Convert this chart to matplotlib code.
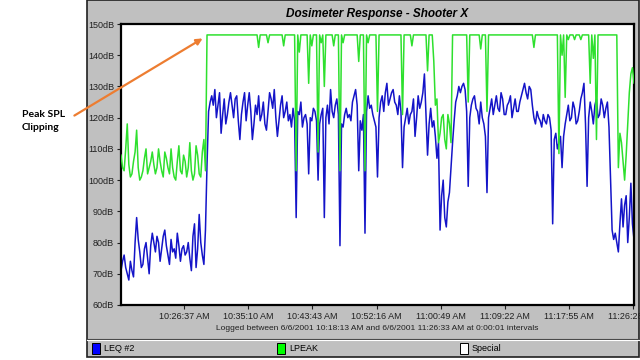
import matplotlib
matplotlib.use("Agg")
import matplotlib.pyplot as plt
from matplotlib.patches import Rectangle, FancyArrowPatch
from matplotlib.lines import Line2D
import numpy as np

# points every 12.5 s starting at 10:18:13
start_label = "10:18:13"
end_label = "11:26:33"
step_s = 12.5
C = 146.5  # LPEAK clip level

leq = [71, 74, 76, 72, 70, 68, 74, 71, 69, 80, 88, 81, 77, 72, 73, 78, 80, 75, 70, 79,
       83, 80, 77, 82, 80, 74, 78, 82, 84, 79, 76, 73, 81, 77, 78, 75, 83, 79, 74, 78,
       79, 76, 77, 80, 75, 71, 82, 86, 72, 78, 89, 80, 76, 73, 84, 105,
       122, 125, 127, 124, 129, 120, 124, 128, 115, 121, 126, 118, 121, 125, 128, 124, 120, 126, 127, 119,
       113, 121, 125, 128, 119, 124, 128, 122, 113, 118, 124, 121, 127, 119, 121, 125, 118, 116, 122, 128,
       126, 123, 129, 120, 114, 119, 124, 127, 120, 122, 125, 119, 121, 117,
       123, 119, 88, 122, 121, 125, 117, 120, 121, 118, 102, 120, 119, 123, 122, 119, 100, 118, 121, 123,
       88, 120, 124, 118, 129, 122, 120, 124, 126, 121, 79, 118, 117, 121, 123, 120, 121, 119, 125, 127,
       129, 124, 103, 119, 116, 121, 83, 122, 127, 123,
       124, 121, 119, 117, 101, 120, 125, 127, 122, 128, 131, 124, 126, 128, 129, 125, 124, 121, 127, 122,
       104, 117, 120, 123, 118, 121, 122, 126, 114, 120, 127, 123, 125, 128, 134, 121, 108, 118, 123, 117,
       119, 114, 107, 112, 84, 95, 100, 88, 85, 93, 96, 104, 112, 119, 125, 127, 130, 128,
       130, 131, 129, 122, 98, 120, 124, 126, 127, 123, 122, 118, 125, 120, 118, 114, 96, 120, 123, 126,
       121, 124, 127, 123, 122, 128, 126, 121, 121, 124, 125, 127, 120, 123, 126, 122, 122, 125, 127, 129,
       131, 128, 126, 130, 129, 124, 120, 118, 122, 120, 119, 117, 121, 119,
       118, 121, 120, 116, 86, 113, 115, 110, 112, 114, 104, 114, 118, 121, 124, 119, 120, 125, 123, 118,
       119, 122, 126, 128, 131, 118, 98, 120, 125, 122, 118, 124, 126, 120, 121, 126, 124, 120, 123, 125,
       117, 100, 84, 81, 83, 80, 77, 86, 94, 85, 92, 95, 80, 88, 99, 86, 81]

lpeak = [108, 104, 103, 110, 118, 105, 101, 102, 106, 109, 116, 104, 100, 101, 103, 107, 110, 102, 104, 106,
         109, 105, 102, 104, 110, 106, 103, 101, 109, 107, 104, 102, 110, 104, 101, 100, 106, 111, 103, 102,
         108, 106, 101, 104, 112, 103, 100, 102, 111, 108, 102, 101, 109, 113, 103, C,
         C, C, C, C, C, C, C, C, C, C, C, C, C, C, C, C, C, C, C, C, C, C, C, C, C, C, C, C, C, C, C, C,
         142.5, C, C, C, C, C, 144, C, C, C, C, C, C, C, C, C, 143, C, C, C, C, C,
         C, C, 103, C, 141, C, C, C, C, C, 131, C, 143, C, C, C, 109, C, 144, C,
         130, C, C, C, C, C, 143, C, C, C, 103, C, 144, C, C, C, C, C, C, C,
         C, C, 138, C, C, C, 103, C, 144, C,
         C, C, C, C, 122, C, C, C, C, C, C, C, C, C, C, C, C, C, C, C,
         121, C, C, C, C, C, 143, C, C, C, C, C, C, C, C, C, 135, C, C, C,
         138, 124, 126, 112, 115, 120, 121, 113, 110, 121, 118, 112, C, C, C, C, C, C,
         C, C, C, C, 125, C, C, C, C, C, C, C, 142, C, C, C, 122, C, C, C,
         C, C, C, C, C, C, C, C, C, C, C, C, C, C, C, C, C, C, C, C,
         C, C, C, C, C, C, 142.5, C, C, C, C, C, C, C, C, C, C, C,
         C, C, C, C, 108.5, C, 140, C, 126.5, C, 145, C, C, C, 145, C, C, C, 145, C,
         C, C, C, C, 131, C, 139, C, 113, C, C, C, C, C, C, C, C, C, C, C,
         C, C, 104, 115, 112, 106, 100, 108, 118, 128, 134, 136, 131, 133, 144, 120, 108]

tick_labels = ["10:26:37 AM", "10:35:10 AM", "10:43:43 AM", "10:52:16 AM",
               "11:00:49 AM", "11:09:22 AM", "11:17:55 AM", "11:26:28 AM"]
y_ticks = [60, 70, 80, 90, 100, 110, 120, 130, 140, 150]


def secs(label):
    h, m, s = label.split()[0].split(":")
    return int(h) * 3600 + int(m) * 60 + int(s)


t0 = secs(start_label)
t_leq = np.arange(len(leq)) * step_s
t_peak = np.arange(len(lpeak)) * step_s
tick_pos = [secs(l) - t0 for l in tick_labels]

narrow = ['Liberation Sans Narrow', 'DejaVu Sans Condensed', 'Liberation Sans']
W, H = 640, 360

fig = plt.figure(figsize=(6.4, 3.6), dpi=100)
fig.patch.set_facecolor('white')

# grey chart panel
fig.patches.append(Rectangle((87 / W, 3 / H), 552 / W, 357 / H, transform=fig.transFigure,
                             facecolor='#C0C0C0', edgecolor='#202020', lw=1.2, zorder=-2))

ax = fig.add_axes([121 / W, 55 / H, 513 / W, 281 / H])
ax.plot(t_leq, leq, color='#1414C8', lw=1.1, zorder=2)
ax.plot(t_peak, lpeak, color='#2EE02E', lw=1.1, zorder=3)
ax.set_xlim(0, secs(end_label) - t0)
ax.set_ylim(60, 150)
ax.set_yticks(y_ticks)
ax.set_yticklabels([f"{v}dB" for v in y_ticks], fontsize=6.5, family=narrow, color='#202020')
ax.set_xticks(tick_pos)
ax.set_xticklabels(tick_labels, fontsize=6.5, family=narrow, color='#202020')
ax.tick_params(length=3, width=0.8, pad=2, color='#202020')
for s in ax.spines.values():
    s.set_linewidth(1.6)
    s.set_color('black')
ax.set_facecolor('white')

ax.set_title("Dosimeter Response - Shooter X", fontsize=8.5, fontweight='bold', style='italic',
             family=narrow, pad=5)

fig.text(377 / W, 1 - 329 / H, "Logged between 6/6/2001 10:18:13 AM and 6/6/2001 11:26:33 AM at 0:00:01 intervals",
         ha='center', va='center', fontsize=6, family=narrow, color='#202020')

# separator above legend strip
fig.add_artist(Line2D([87 / W, 639 / W], [1 - 338.5 / H] * 2, transform=fig.transFigure, color='#404040', lw=0.8))
fig.add_artist(Line2D([87 / W, 639 / W], [1 - 339.5 / H] * 2, transform=fig.transFigure, color='white', lw=0.8))

# legend
legend_items = [("LEQ #2", '#0000FF', 92), ("LPEAK", '#00FF00', 277), ("Special", '#FFFFFF', 460)]
for name, col, x in legend_items:
    fig.patches.append(Rectangle((x / W, 1 - 354 / H), 8 / W, 11 / H, transform=fig.transFigure,
                                 facecolor=col, edgecolor='black', lw=0.7, zorder=3))
    fig.text((x + 12) / W, 1 - 348.5 / H, name, ha='left', va='center', fontsize=6.5, family=narrow)

# annotation outside the chart
fig.text(22 / W, 1 - 121 / H, "Peak SPL\nClipping", ha='left', va='center', fontsize=7.5,
         fontweight='bold', family=['Lato', 'DejaVu Sans'], linespacing=1.5)
fig.add_artist(FancyArrowPatch((72 / W, 1 - 117 / H), (205 / W, 1 - 37 / H), transform=fig.transFigure,
                               arrowstyle='-|>', mutation_scale=9, color='#ED7D31', lw=1.6, zorder=10))

fig.savefig("out.png", dpi=100)
